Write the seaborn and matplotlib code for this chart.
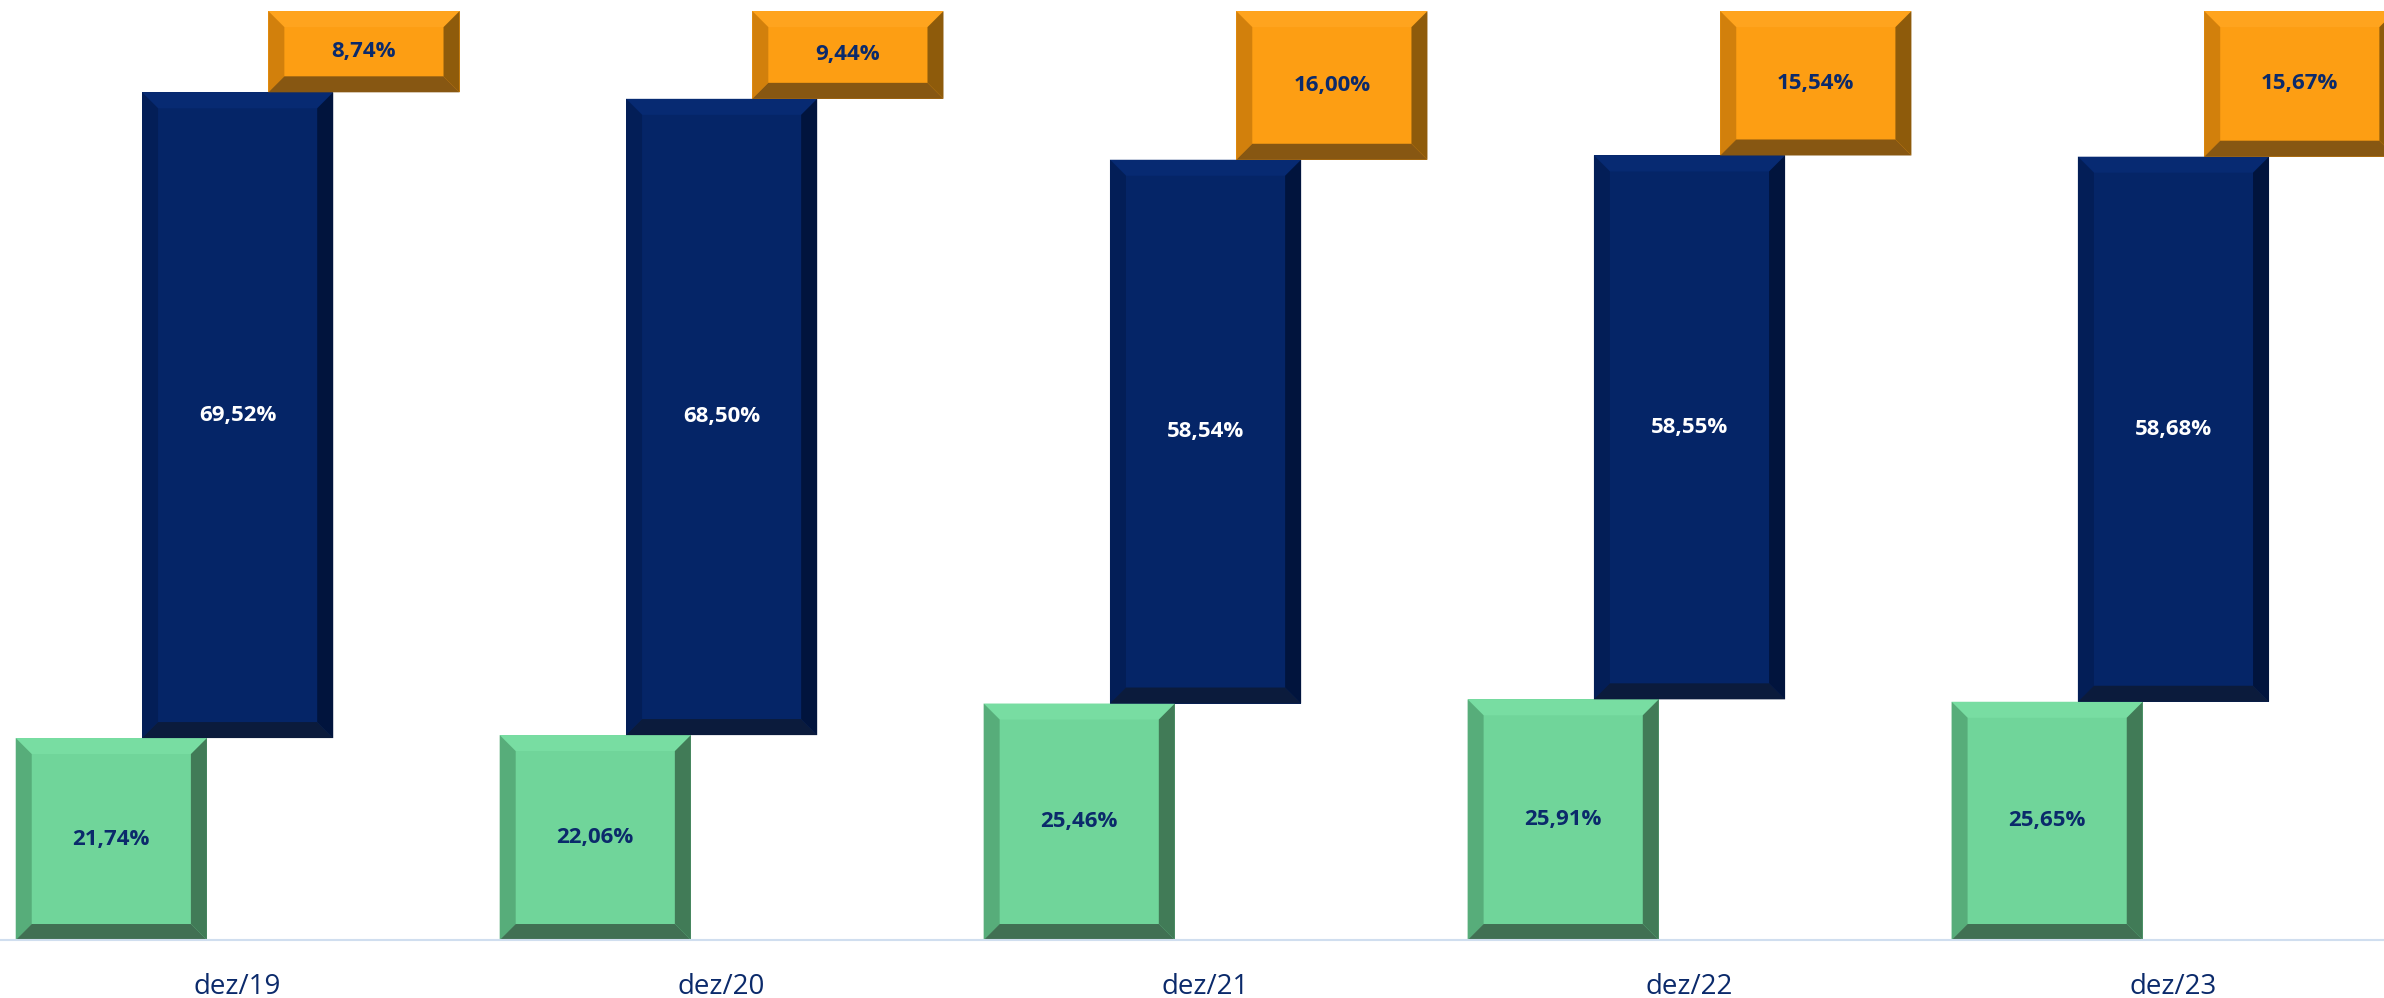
import matplotlib
matplotlib.use("Agg")
import matplotlib.pyplot as plt
from matplotlib.patches import Polygon
import seaborn as sns
import pandas as pd

# valeurs (en %)
periodes = ["dez/19", "dez/20", "dez/21", "dez/22", "dez/23"]
verde = [21.74, 22.06, 25.46, 25.91, 25.65]
azul = [69.52, 68.50, 58.54, 58.55, 58.68]
laranja = [8.74, 9.44, 16.00, 15.54, 15.67]

sns.set_theme(style="white")
plt.rcParams["font.family"] = ["Open Sans", "DejaVu Sans"]

navy = "#0B2A6B"

# couleurs: face, puis biseaux haut / gauche / droite / bas
series = [
    dict(vals=verde, base=[0] * 5, dx=-0.261, face="#70D59A",
         shades=("#78DDA2", "#57AD7A", "#417B57", "#417053"), txt=navy),
    dict(vals=azul, base=verde, dx=0.0, face="#052567",
         shades=("#072A72", "#031E57", "#01143D", "#0B1B3C"), txt="white"),
    dict(vals=laranja, base=[v + a for v, a in zip(verde, azul)], dx=0.261, face="#FD9E13",
         shades=("#FFA41E", "#D2800C", "#8E5B0B", "#875712"), txt=navy),
]

fig = plt.figure(figsize=(23.84, 9.98), dpi=100)
ax = fig.add_axes([0, 0.0581, 1, 0.9419])

for s in series:
    df = pd.DataFrame({"pos": [i + s["dx"] for i in range(len(periodes))],
                       "val": s["vals"]})
    n0 = len(ax.patches)
    sns.barplot(data=df, x="pos", y="val", native_scale=True, width=0.395,
                color=s["face"], saturation=1, bottom=s["base"], ax=ax,
                linewidth=0, zorder=2)
    s["rects"] = ax.patches[n0:]

ax.set_xlim(-0.491, 4.435)
ax.set_ylim(0, 101.2)

# largeur du biseau: 16 px -> unités de données
px_x = ax.transData.transform((1, 0))[0] - ax.transData.transform((0, 0))[0]
px_y = ax.transData.transform((0, 1))[1] - ax.transData.transform((0, 0))[1]
bx, by = 16 / px_x, 16 / px_y

for s in series:
    top, left, right, bottom = s["shades"]
    for r, v in zip(s["rects"], s["vals"]):
        x0, y0 = r.get_x(), r.get_y()
        x1, y1 = x0 + r.get_width(), y0 + r.get_height()
        polys = [
            ([(x0, y1), (x1, y1), (x1 - bx, y1 - by), (x0 + bx, y1 - by)], top),
            ([(x0, y0), (x0, y1), (x0 + bx, y1 - by), (x0 + bx, y0 + by)], left),
            ([(x1, y0), (x1, y1), (x1 - bx, y1 - by), (x1 - bx, y0 + by)], right),
            ([(x0, y0), (x1, y0), (x1 - bx, y0 + by), (x0 + bx, y0 + by)], bottom),
        ]
        for pts, c in polys:
            ax.add_patch(Polygon(pts, closed=True, facecolor=c, edgecolor="none", zorder=3))
        ax.text((x0 + x1) / 2, (y0 + y1) / 2, f"{v:.2f}".replace(".", ",") + "%",
                ha="center", va="center", fontsize=16, fontweight="bold",
                color=s["txt"], zorder=4)

ax.set_xticks(range(len(periodes)))
ax.set_xticklabels(periodes, fontsize=20, color=navy)
ax.tick_params(axis="x", length=0, pad=24)
ax.set_yticks([])
ax.set_xlabel("")
ax.set_ylabel("")
for sp in ["top", "left", "right"]:
    ax.spines[sp].set_visible(False)
ax.spines["bottom"].set_color("#D0DEEF")
ax.spines["bottom"].set_linewidth(1.5)
ax.spines["bottom"].set_zorder(5)

plt.savefig("out.png", dpi=100)
